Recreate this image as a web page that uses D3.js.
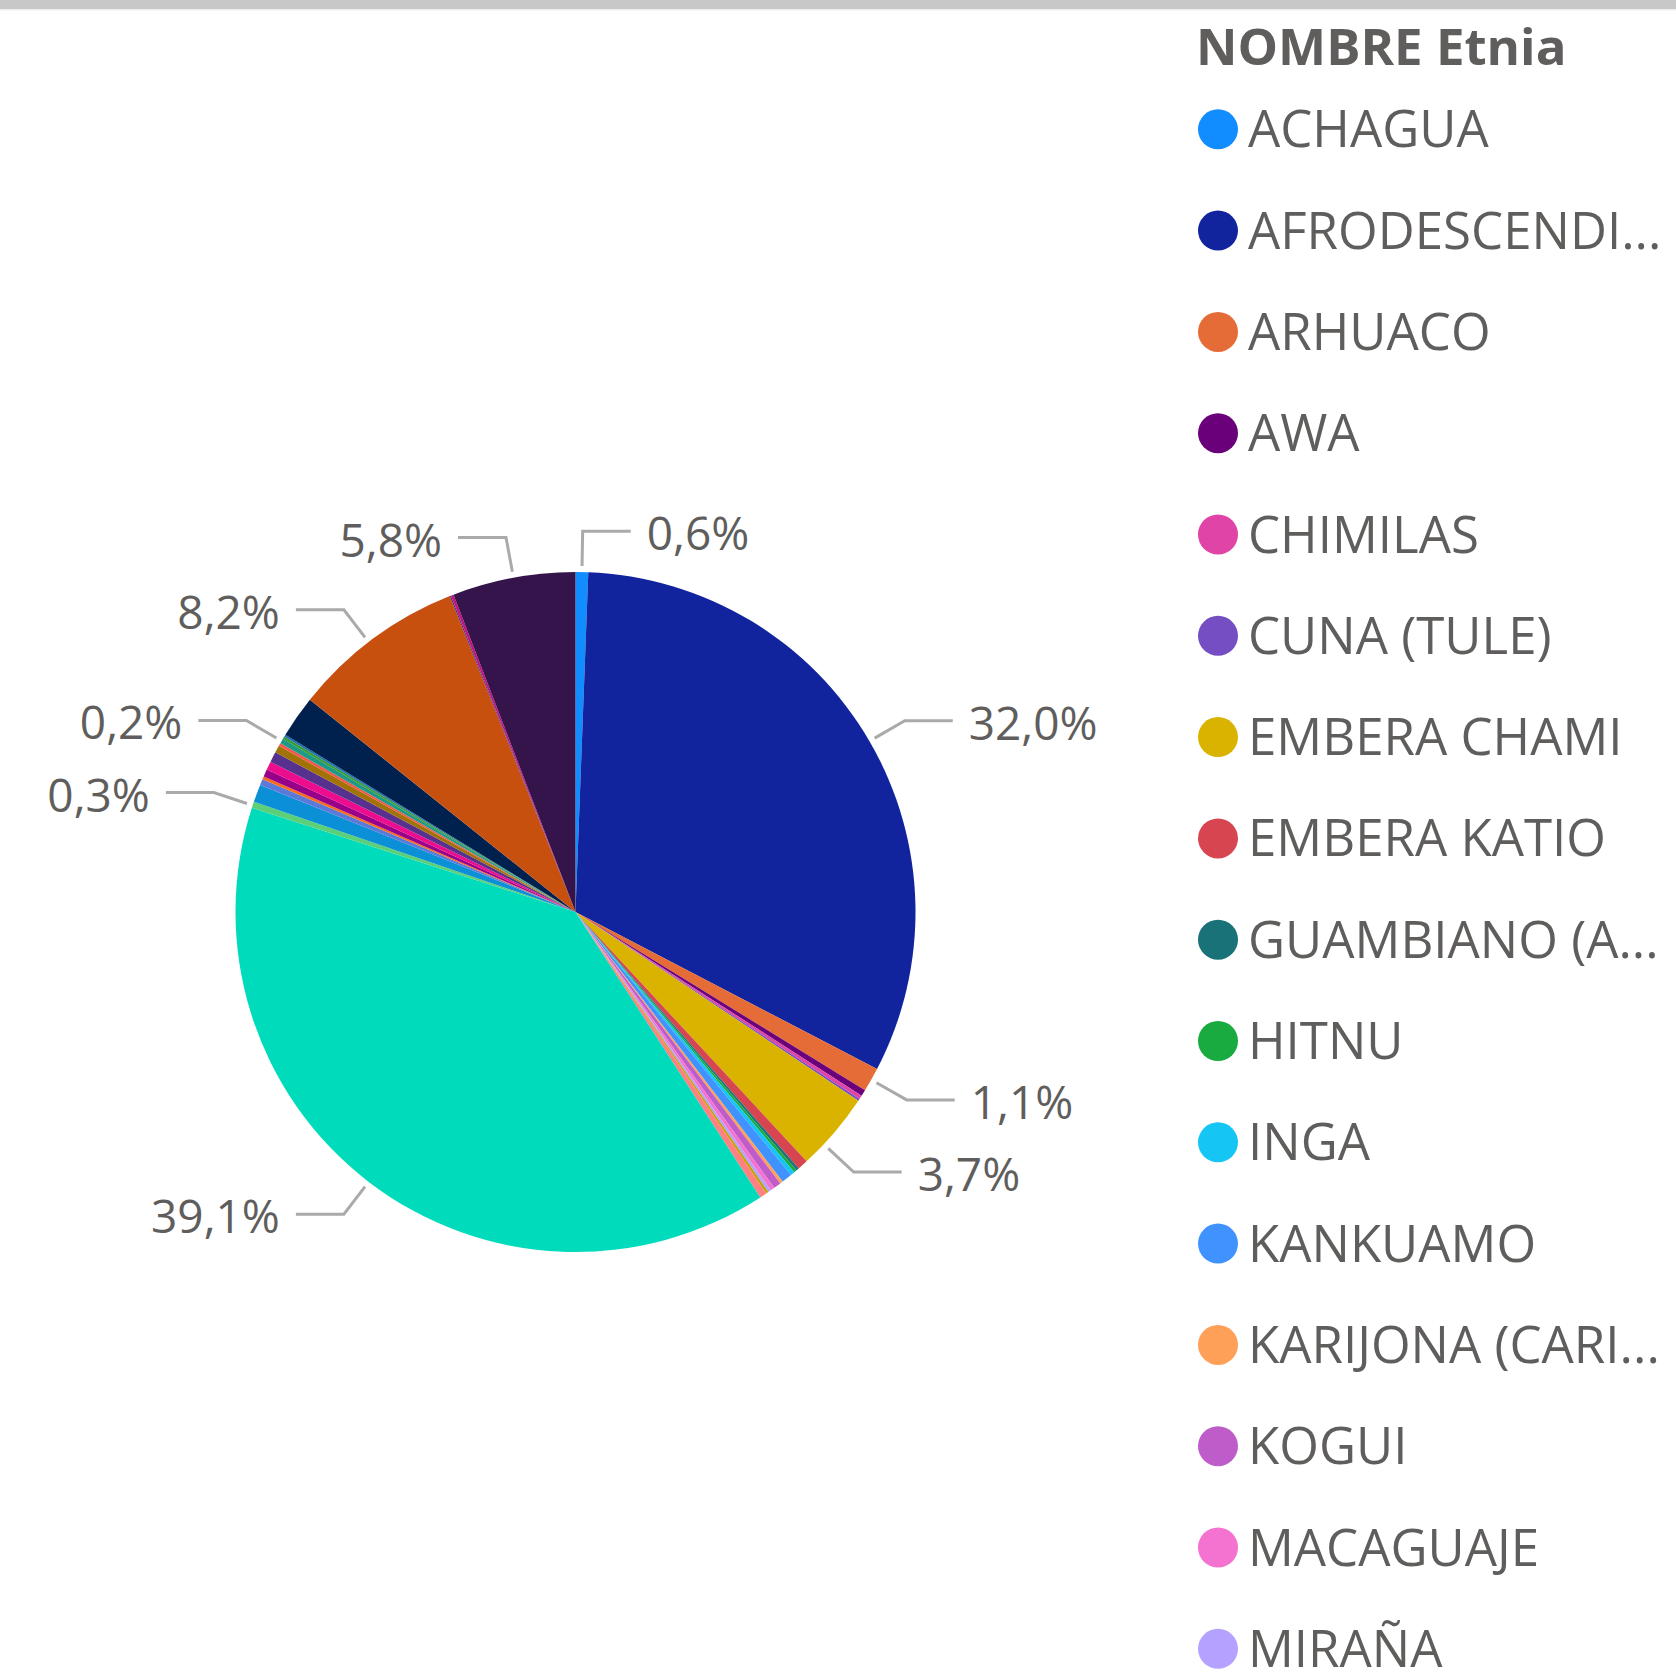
<!DOCTYPE html>
<html>
<head>
<meta charset="utf-8">
<script src="https://cdn.jsdelivr.net/npm/d3@7/dist/d3.min.js"></script>
<style>
    body { margin: 0; background: #fff; overflow: hidden; }
    text { font-family: "Open Sans", "Noto Sans", sans-serif; }
</style>
</head>
<body>
<svg id="chart"></svg>
<script>
// data, in legend order (Power BI keeps the pie in the same order)
const categories = [
    'ACHAGUA', 'AFRODESCENDIENTE', 'ARHUACO', 'AWA', 'CHIMILAS', 'CUNA (TULE)',
    'EMBERA CHAMI', 'EMBERA KATIO', 'GUAMBIANO (AMBALÓ)', 'HITNU', 'INGA', 'KANKUAMO',
    'KARIJONA (CARIJONA)', 'KOGUI', 'MACAGUAJE', 'MIRAÑA', 'MOKANA', 'MUISCA',
    'NINGUNA', 'PASTOS', 'PIJAO', 'PIRATAPUYO', 'PUINAVE', 'RAIZAL',
    'ROM', 'SENU', 'SIKUANI', 'TIKUNA', 'TUCANO', 'TUNEBO',
    'UITOTO', 'WAYUU', 'WIWA', 'YANACONA', 'YUKPA', 'ZENU'
];
const values = [
    0.6, 32.04, 1.14, 0.3, 0.18, 0.1,
    3.74, 0.5, 0.13, 0.14, 0.2, 0.5,
    0.14, 0.35, 0.2, 0.14, 0.12, 0.33,
    39.1, 0.3, 0.84, 0.28, 0.15, 0.35,
    0.4, 0.5, 0.35, 0.14, 0.24, 0.12,
    0.1, 2.0, 8.24, 0.06, 0.13, 5.84
];
const palette = [
    '#118DFF', '#12239E', '#E66C37', '#6B007B', '#E044A7', '#744EC2',
    '#D9B300', '#D64550', '#197278', '#1AAB40', '#15C6F4', '#4092FF',
    '#FFA058', '#BE5DC9', '#F472D0', '#B5A1FF', '#C4A200', '#FF8080',
    '#00DBBC', '#5BD078', '#0B8FD6', '#5B79D9', '#F96B1C', '#98008A',
    '#EC0C8E', '#56328E', '#A07207', '#F5564A', '#1C9A87', '#3A9C2E',
    '#1D6FB5', '#00214E', '#C8500E', '#4A2A7E', '#C2127E', '#35134B'
];
// slices that carry a data label in the reference
const labelled = ['ACHAGUA', 'AFRODESCENDIENTE', 'ARHUACO', 'EMBERA CHAMI', 'NINGUNA',
    'PASTOS', 'TUCANO', 'WIWA', 'ZENU'];
const legendTitle = 'NOMBRE Etnia';

const width = 1676, height = 1672;
const center = { x: 575.5, y: 912 };
const radius = 340;
const textColor = '#605E5C';

const data = categories.map((name, i) => ({ name, value: values[i], color: palette[i] }));
const total = d3.sum(values);
const fmt = v => d3.format('.1f')(v / total * 100).replace('.', ',') + '%';

const svg = d3.select('#chart')
    .attr('width', width)
    .attr('height', height);

// top frame band
svg.append('rect').attr('x', 0).attr('y', 0).attr('width', width).attr('height', 9).attr('fill', '#C8C8C8');
svg.append('rect').attr('x', 0).attr('y', 9).attr('width', width).attr('height', 1.5).attr('fill', '#EDEDED');

const pie = d3.pie().sort(null).value(d => d.value);
const arc = d3.arc().innerRadius(0).outerRadius(radius);
const arcs = pie(data);

const elPie = svg.append('g')
    .attr('transform', `translate(${center.x},${center.y})`);

elPie.selectAll('path.slice')
    .data(arcs)
    .join('path')
    .classed('slice', true)
    .attr('d', arc)
    .attr('fill', d => d.data.color);

// data labels with leader lines
const rStart = radius + 6;
const rElbow = radius * 1.12;
const minGap = 72;

function polar(angle, r) {
    return [Math.sin(angle) * r, -Math.cos(angle) * r];
}

const labels = arcs
    .filter(a => labelled.includes(a.data.name))
    .map(a => ({ arc: a, angle: (a.startAngle + a.endAngle) / 2 }));

// push overlapping labels downwards, keeping each leader inside its slice
['right', 'left'].forEach(side => {
    const group = labels
        .filter(l => (side === 'right') === (Math.sin(l.angle) >= 0))
        .sort((a, b) => polar(a.angle, rElbow)[1] - polar(b.angle, rElbow)[1]);
    const dir = side === 'right' ? 1 : -1;
    for (let i = 1; i < group.length; i++) {
        const prevY = polar(group[i - 1].angle, rElbow)[1];
        const l = group[i];
        while (polar(l.angle, rElbow)[1] < prevY + minGap) {
            const next = l.angle + dir * 0.002;
            if (next < l.arc.startAngle || next > l.arc.endAngle) break;
            l.angle = next;
        }
    }
});

const elLabels = elPie.append('g').classed('labels', true);

labels.forEach(l => {
    const right = Math.sin(l.angle) >= 0;
    const p0 = polar(l.angle, rStart);
    const p1 = polar(l.angle, rElbow);
    const p2 = [p1[0] + (right ? 48 : -48), p1[1]];
    elLabels.append('polyline')
        .attr('points', [p0, p1, p2].map(p => p.join(',')).join(' '))
        .attr('fill', 'none')
        .attr('stroke', '#AAAAAA')
        .attr('stroke-width', 3);
    elLabels.append('text')
        .attr('x', p2[0] + (right ? 16 : -16))
        .attr('y', p2[1] + 19)
        .attr('text-anchor', right ? 'start' : 'end')
        .attr('font-size', 46)
        .attr('fill', textColor)
        .text(fmt(l.arc.data.value));
});

// legend
const legend = svg.append('g').classed('legend', true);
legend.append('text')
    .attr('x', 1196)
    .attr('y', 65)
    .attr('font-size', 51)
    .attr('font-weight', 700)
    .attr('fill', textColor)
    .text(legendTitle);

const itemY = i => 129.3 + i * 101.3;
const maxTextWidth = 418;

const items = legend.selectAll('g.item')
    .data(data)
    .join('g')
    .classed('item', true)
    .attr('transform', (d, i) => `translate(1218,${itemY(i)})`);

items.append('circle')
    .attr('r', 20)
    .attr('fill', d => d.color);

items.append('text')
    .attr('x', 30)
    .attr('y', 18)
    .attr('font-size', 51)
    .attr('fill', textColor)
    .each(function (d) {
        const el = d3.select(this).text(d.name);
        if (this.getComputedTextLength() <= maxTextWidth) return;
        let s = d.name;
        while (s.length > 1) {
            s = s.slice(0, -1).trimEnd();
            el.text(s + '...');
            if (this.getComputedTextLength() <= maxTextWidth) break;
        }
    });
</script>
</body>
</html>
